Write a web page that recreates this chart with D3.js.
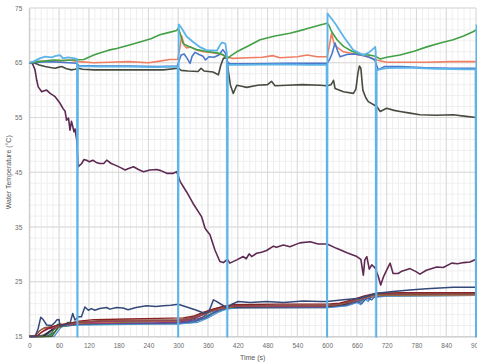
<!DOCTYPE html>
<html>
<head>
<meta charset="utf-8">
<script src="https://cdn.jsdelivr.net/npm/d3@7/dist/d3.min.js"></script>
<style>
  html, body { margin: 0; padding: 0; background: #ffffff; }
  svg { display: block; font-family: "Liberation Sans", Arial, sans-serif; }
</style>
</head>
<body>
<svg id="chart" width="477" height="362"></svg>
<script>
// Axis ticks
const timeTicks = [0, 60, 120, 180, 240, 300, 360, 420, 480, 540, 600, 660, 720, 780, 840, 900];
const tempTicks = [15, 25, 35, 45, 55, 65, 75];

// Upper-tank sensors: [time (s), temperature (°C)]
const sensorSky = [[0,65],[10,65.3],[21,65.8],[32,66.1],[45,66.0],[52,66.2],[62,66.4],[68,65.8],[78,66.0],[85,65.9],[96,65.7],[97,0],[98,64.4],[140,64.3],[200,64.3],[250,64.2],[299,64.3],[300,0],[301,72],[307,71.3],[317,69.8],[330,68.8],[345,67.8],[357,67.3],[378,67.2],[384,68.2],[388,68.7],[395,68.5],[398,66.7],[399,0],[400,64.6],[430,64.6],[500,64.7],[560,64.6],[599,64.6],[600,0],[601,74],[606,73.4],[616,72.2],[633,69.8],[653,67.3],[673,66.4],[683,66.8],[690,67.3],[697,67.9],[698,67],[699,0],[700,63.7],[720,64.0],[760,64.1],[820,63.9],[880,63.8],[899,63.8],[900,0],[901,72]];

const sensorBlue = [[0,65],[20,65.1],[40,65.2],[60,65.1],[80,65.0],[95,64.9],[100,64.5],[140,64.4],[200,64.4],[260,64.3],[298,64.4],[302,65.4],[306,66.4],[312,66.6],[318,65.8],[324,64.9],[328,66.2],[334,66.9],[342,66.5],[350,66.2],[355,65.5],[362,66.1],[372,66.0],[382,66.4],[390,67.4],[395,66.8],[400,65.0],[405,64.8],[450,64.8],[520,64.9],[580,64.9],[600,64.9],[605,65.6],[610,66.7],[616,68.6],[621,67.2],[626,66.1],[640,66.5],[655,66.6],[670,66.4],[685,66.0],[696,65.5],[703,63.7],[715,64.3],[750,64.3],[800,64.1],[850,64.0],[900,64.0]];

const sensorGreen = [[0,65],[15,65.2],[30,65.3],[50,65.5],[70,65.4],[90,65.5],[110,65.6],[130,66.4],[142,66.8],[160,67.3],[176,67.6],[200,68.2],[223,68.8],[245,69.4],[263,70.1],[280,70.5],[297,70.9],[300,71.3],[303,70.6],[310,68.5],[320,68.0],[337,67.4],[355,67.1],[378,66.8],[390,66.5],[399,65.8],[405,66.2],[418,67],[440,68.0],[465,69.2],[495,69.9],[525,70.4],[555,71.1],[586,71.9],[600,72.2],[604,71.8],[609,70.7],[620,69.2],[633,68],[650,67.1],[666,66.6],[685,66.4],[697,66.2],[707,65.7],[720,66.0],[747,66.4],[775,67.1],[801,67.9],[828,68.6],[854,69.2],[875,69.9],[895,70.7],[900,71]];

const sensorOrange = [[0,65],[20,65.2],[40,65.4],[60,65.3],[80,65.5],[100,65.2],[130,65.0],[160,65.1],[200,65.2],[240,65.0],[263,65.3],[283,65.6],[299,65.6],[303,67.5],[307,69.9],[312,68.2],[317,67.7],[325,67.9],[335,67.4],[351,67.0],[365,66.9],[378,66.7],[390,66.4],[399,66.0],[410,65.8],[440,65.9],[470,66.0],[490,66.3],[505,65.9],[540,66.1],[560,66.4],[580,66.1],[600,66.1],[604,67.8],[609,70.4],[614,68.5],[619,67.9],[633,67.0],[650,66.7],[666,66.4],[685,66.0],[700,65.5],[720,65.1],[760,65.1],[800,65.1],[850,65.2],[900,65.2]];

const sensorDark = [[0,65],[6,65.0],[12,64.9],[20,64.6],[32,64.3],[45,64.1],[52,64.0],[60,64.2],[65,64.3],[75,63.9],[85,63.7],[92,63.8],[99,64.0],[107,63.8],[130,63.7],[180,63.7],[230,63.7],[270,63.7],[300,64.0],[306,63.6],[320,63.5],[340,63.4],[346,64.0],[352,63.5],[370,63.3],[381,62.8],[386,64.6],[391,65.8],[398,66.0],[401,63.5],[405,61.0],[411,59.4],[418,60.9],[428,60.7],[438,60.5],[460,60.9],[480,61.0],[488,61.6],[495,60.8],[520,60.9],[550,61.0],[586,60.9],[600,60.8],[608,61.0],[613,61.8],[616,60.3],[633,59.7],[653,59.4],[658,60.2],[662,63.0],[665,64.4],[668,64.0],[672,60.0],[678,58.6],[683,57.9],[700,57.0],[707,56.1],[720,56.7],[735,56.3],[747,56.1],[767,55.8],[787,55.5],[820,55.4],[854,55.5],[880,55.2],[900,55.0]];

const sensorPurple = [[0,65],[5,65],[8,64.5],[11.5,63.7],[15,61.8],[18,60.6],[25,59.7],[30,59.9],[35,60.0],[42,59.4],[52,58.8],[62,57.6],[68,56.6],[72,56.2],[75,54.5],[79,54.9],[82,52.7],[85,54.3],[87,53.6],[90,52.4],[92,52.9],[95.5,50.9],[98.7,46],[102,46.3],[105.6,46.6],[110,47.3],[115.6,47.2],[121,46.9],[128,47.2],[135,46.8],[142,46.6],[150,46.6],[156,47.2],[165,46.6],[173,46.3],[185,45.8],[193,45.4],[200,45.7],[210,46.0],[220,45.5],[230,45.1],[243,45.4],[257,45.5],[265,45.3],[277,44.8],[290,44.8],[297,45.1],[304,43.3],[317,41.4],[330,39.3],[347,36.9],[354,34.8],[357,34.4],[364,33.6],[374,30.8],[384,28.7],[391,28.5],[399,29.1],[404,28.4],[418,29],[431,29.6],[437,29.2],[443,30.1],[448,29.6],[458,30.2],[468,30.4],[478,30.7],[492,31.5],[498,31.3],[512,31.7],[525,31.4],[545,32.1],[566,32.3],[582,31.9],[600,31.9],[619,31.1],[640,30.3],[660,29.6],[668,29.1],[673,26.2],[676,29],[680,29.6],[685,27.3],[690,28.1],[697,27.5],[703,26],[708,24.4],[714,26],[721,27.3],[727,28.4],[733,26.5],[743,26.5],[750,26.9],[757,27.1],[767,27.4],[780,26.8],[787,26.4],[800,27.1],[821,27.7],[834,27.6],[851,28.4],[863,28.3],[875,28.5],[888,28.6],[900,29.1]];

// Lower-tank sensors
const sensorNavy = [[0,15],[12,15],[18,16.5],[23,18.5],[28,18.1],[35,17.1],[45,17.0],[52,17.6],[55,18.0],[60,18.1],[62,16.8],[71,17.1],[82,17.4],[87.5,19.2],[92,18.0],[99,18.6],[105,18.6],[112,20.4],[119,19.8],[125,20.1],[132,19.8],[142,20.1],[156,20.3],[162,20.0],[176,20.3],[189,20.2],[199,19.9],[215,20.3],[236,20.6],[255,20.5],[270,20.6],[285,20.7],[300,20.9],[317,20.4],[337,19.8],[351,19.3],[361,19.5],[366,20.5],[371,21.7],[377,21.4],[388,20.8],[399,20.2],[408,20.9],[421,21.4],[445,21.2],[478,21.4],[512,21.2],[552,21.5],[586,21.4],[600,21.4],[633,21.7],[666,22.0],[700,22.9],[733,23.2],[767,23.5],[800,23.7],[854,24.0],[900,24.0]];

const lowerA = [[0,15],[14,15],[22,15.6],[35,16.4],[50,16.9],[65,17.2],[85,17.5],[100,17.8],[130,18.1],[200,18.2],[260,18.3],[310,18.4],[330,18.7],[350,19.4],[370,20.0],[390,20.5],[410,20.8],[500,20.9],[600,20.9],[625,21.1],[650,21.7],[675,22.4],[700,22.9],[750,23.0],[900,23.0]];
const lowerB = [[0,15],[10,15],[20,16.0],[30,16.6],[45,16.8],[60,16.9],[80,17.3],[100,17.6],[140,17.9],[220,18.0],[300,18.1],[320,18.3],[345,19.1],[365,19.8],[385,20.3],[405,20.6],[480,20.7],[600,20.7],[630,21.0],[655,21.6],[680,22.3],[700,22.7],[760,22.8],[900,22.8]];
const lowerC = [[0,15],[8,15],[15,15.5],[25,16.3],[40,16.7],[55,16.6],[70,17.0],[90,17.4],[110,17.5],[200,17.7],[300,17.8],[325,18.2],[350,19.0],[372,19.8],[395,20.3],[415,20.5],[600,20.6],[628,20.9],[660,21.7],[690,22.4],[710,22.6],[900,22.6]];
const lowerD = [[0,15],[35,15],[45,15.6],[52,16.8],[58,17.3],[62,16.9],[75,17.3],[90,17.6],[100,17.4],[130,17.6],[220,17.7],[300,17.8],[330,18.3],[355,19.3],[375,19.9],[395,20.3],[420,20.5],[600,20.5],[635,20.9],[665,21.9],[690,22.5],[720,22.6],[900,22.7]];
const lowerE = [[0,15],[25,15],[35,15.4],[45,16.2],[55,16.8],[65,17.0],[80,17.1],[100,17.3],[150,17.4],[250,17.5],[300,17.6],[330,18.0],[350,18.6],[362,19.4],[375,19.8],[390,20.1],[410,20.4],[600,20.4],[640,20.9],[670,21.8],[695,22.4],[720,22.5],[900,22.6]];
const lowerF = [[0,15],[40,15],[50,15.8],[58,16.6],[65,16.8],[80,17.0],[100,17.2],[150,17.3],[250,17.4],[300,17.5],[335,17.9],[360,18.9],[380,19.8],[400,20.2],[430,20.4],[600,20.5],[630,20.8],[650,21.3],[662,21.9],[668,21.4],[676,22.2],[684,21.8],[692,22.6],[700,22.4],[720,22.6],[900,22.7]];
const lowerG = [[0,15],[30,15],[42,15.8],[52,16.6],[62,17.0],[78,17.2],[100,17.3],[160,17.4],[260,17.4],[300,17.5],[330,17.7],[355,18.4],[370,19.3],[385,19.9],[405,20.3],[440,20.5],[600,20.4],[640,20.8],[660,21.4],[670,21.0],[680,22.1],[690,21.7],[700,22.7],[730,22.7],[900,22.9]];
const lowerH = [[0,15],[45,15],[55,16.2],[62,17.3],[68,17.0],[78,17.6],[88,17.3],[100,17.6],[150,17.8],[250,17.9],[300,17.9],[325,18.2],[350,19.0],[370,19.8],[395,20.4],[420,20.6],[600,20.6],[630,21.0],[660,21.8],[690,22.5],[710,22.7],[900,22.8]];
const lowerI = [[0,15],[20,15],[30,15.4],[45,16.1],[60,16.7],[80,17.0],[100,17.2],[200,17.3],[300,17.3],[330,17.6],[350,18.2],[370,19.2],[390,19.9],[410,20.2],[600,20.3],[640,20.7],[670,21.6],[695,22.3],[720,22.4],[900,22.5]];
const lowerJ = [[0,15],[15,15],[25,15.8],[38,16.4],[50,16.6],[70,17.1],[100,17.5],[180,17.8],[300,17.9],[320,18.1],[345,18.9],[362,19.6],[380,20.1],[400,20.5],[600,20.6],[625,20.9],[655,21.6],[680,22.4],[705,22.8],[900,22.9]];
const lowerK = [[0,15],[28,15],[40,15.9],[50,16.5],[60,16.9],[75,17.2],[100,17.5],[200,17.7],[300,17.8],[330,18.2],[355,19.2],[380,20.0],[400,20.4],[600,20.5],[635,20.9],[665,21.9],[695,22.6],[900,22.7]];
const lowerL = [[0,15],[50,15],[58,16.0],[65,16.8],[80,17.0],[100,17.1],[200,17.2],[300,17.3],[340,17.6],[360,18.4],[380,19.4],[400,20.1],[430,20.3],[600,20.3],[640,20.6],[660,21.2],[668,20.8],[675,21.9],[683,21.4],[690,22.3],[700,22.2],[720,22.4],[900,22.5]];

// Draw order (back to front) with stroke colours
const lowerSeries = [
  { data: lowerI, color: "#707070" },
  { data: lowerL, color: "#4f97d1" },
  { data: lowerF, color: "#2a8f8a" },
  { data: lowerG, color: "#3b5ea8" },
  { data: lowerE, color: "#7b3f8c" },
  { data: lowerD, color: "#2e7d32" },
  { data: lowerK, color: "#2b2b2b" },
  { data: lowerC, color: "#e8833a" },
  { data: lowerH, color: "#4b5a2a" },
  { data: lowerJ, color: "#a3386e" },
  { data: lowerB, color: "#8c564b" },
  { data: lowerA, color: "#8b2323" }
];
const upperSeries = [
  { data: sensorNavy, color: "#34497a", width: 1.5 },
  { data: sensorPurple, color: "#5e2a52", width: 1.6 },
  { data: sensorDark, color: "#474c40", width: 1.6 },
  { data: sensorOrange, color: "#ee7f62", width: 1.6 },
  { data: sensorBlue, color: "#4a79cc", width: 1.6 },
  { data: sensorGreen, color: "#43a047", width: 1.6 },
  { data: sensorSky, color: "#5cb4e8", width: 1.8 }
];

const W = 477, H = 362;
const svg = d3.select("#chart");

const x = d3.scaleLinear().domain([0, 900]).range([29.3, 476]);
const y = d3.scaleLinear().domain([15, 75]).range([336.5, 8]);

// Gridlines: minor every 12 s / 2 °C, major every 60 s / 10 °C
const minorX = d3.range(0, 901, 12);
const minorY = d3.range(15, 75.1, 2);
const grid = svg.append("g");
grid.selectAll(".mx").data(minorX).join("line")
  .attr("x1", d => x(d)).attr("x2", d => x(d))
  .attr("y1", y(75)).attr("y2", y(15))
  .attr("stroke", "#efefef").attr("stroke-width", 1);
grid.selectAll(".my").data(minorY).join("line")
  .attr("x1", x(0)).attr("x2", x(900))
  .attr("y1", d => y(d)).attr("y2", d => y(d))
  .attr("stroke", "#efefef").attr("stroke-width", 1);
grid.selectAll(".Mx").data(timeTicks).join("line")
  .attr("x1", d => x(d)).attr("x2", d => x(d))
  .attr("y1", y(75)).attr("y2", y(15))
  .attr("stroke", "#d9d9d9").attr("stroke-width", 1);
grid.selectAll(".My").data(tempTicks).join("line")
  .attr("x1", x(0)).attr("x2", x(900))
  .attr("y1", d => y(d)).attr("y2", d => y(d))
  .attr("stroke", "#d9d9d9").attr("stroke-width", 1);

// Axes
const xAxis = svg.append("g")
  .attr("transform", `translate(0,${y(15)})`)
  .call(d3.axisBottom(x).tickValues(timeTicks).tickSize(0).tickPadding(7));
const yAxis = svg.append("g")
  .attr("transform", `translate(${x(0)},0)`)
  .call(d3.axisLeft(y).tickValues(tempTicks).tickSize(0).tickPadding(7));
[xAxis, yAxis].forEach(g => {
  g.select(".domain").attr("stroke", "#c8c8c8");
  g.selectAll("text")
    .attr("fill", "#6b6b6b")
    .style("font-size", "6.5px")
    .style("font-family", "'Liberation Sans', Arial, sans-serif");
});

// Plot clip
svg.append("clipPath").attr("id", "plotClip")
  .append("rect")
  .attr("x", x(0)).attr("y", y(75) - 2)
  .attr("width", W - x(0)).attr("height", y(15) - y(75) + 3);

const line = d3.line().x(d => x(d[0])).y(d => y(d[1]));
const plot = svg.append("g").attr("clip-path", "url(#plotClip)");

plot.selectAll(".lower").data(lowerSeries).join("path")
  .attr("d", d => line(d.data))
  .attr("fill", "none")
  .attr("stroke", d => d.color)
  .attr("stroke-width", 1.3)
  .attr("stroke-linejoin", "round");

plot.selectAll(".upper").data(upperSeries).join("path")
  .attr("d", d => line(d.data))
  .attr("fill", "none")
  .attr("stroke", d => d.color)
  .attr("stroke-width", d => d.width)
  .attr("stroke-linejoin", "round");

// Axis titles
svg.append("text")
  .attr("x", (x(0) + x(900)) / 2).attr("y", 359.5)
  .attr("text-anchor", "middle")
  .attr("fill", "#555")
  .style("font-size", "7px")
  .text("Time (s)");
svg.append("text")
  .attr("transform", `translate(10.5,${(y(15) + y(75)) / 2}) rotate(-90)`)
  .attr("text-anchor", "middle")
  .attr("fill", "#555")
  .style("font-size", "7px")
  .text("Water Temperature (°C)");
</script>
</body>
</html>
